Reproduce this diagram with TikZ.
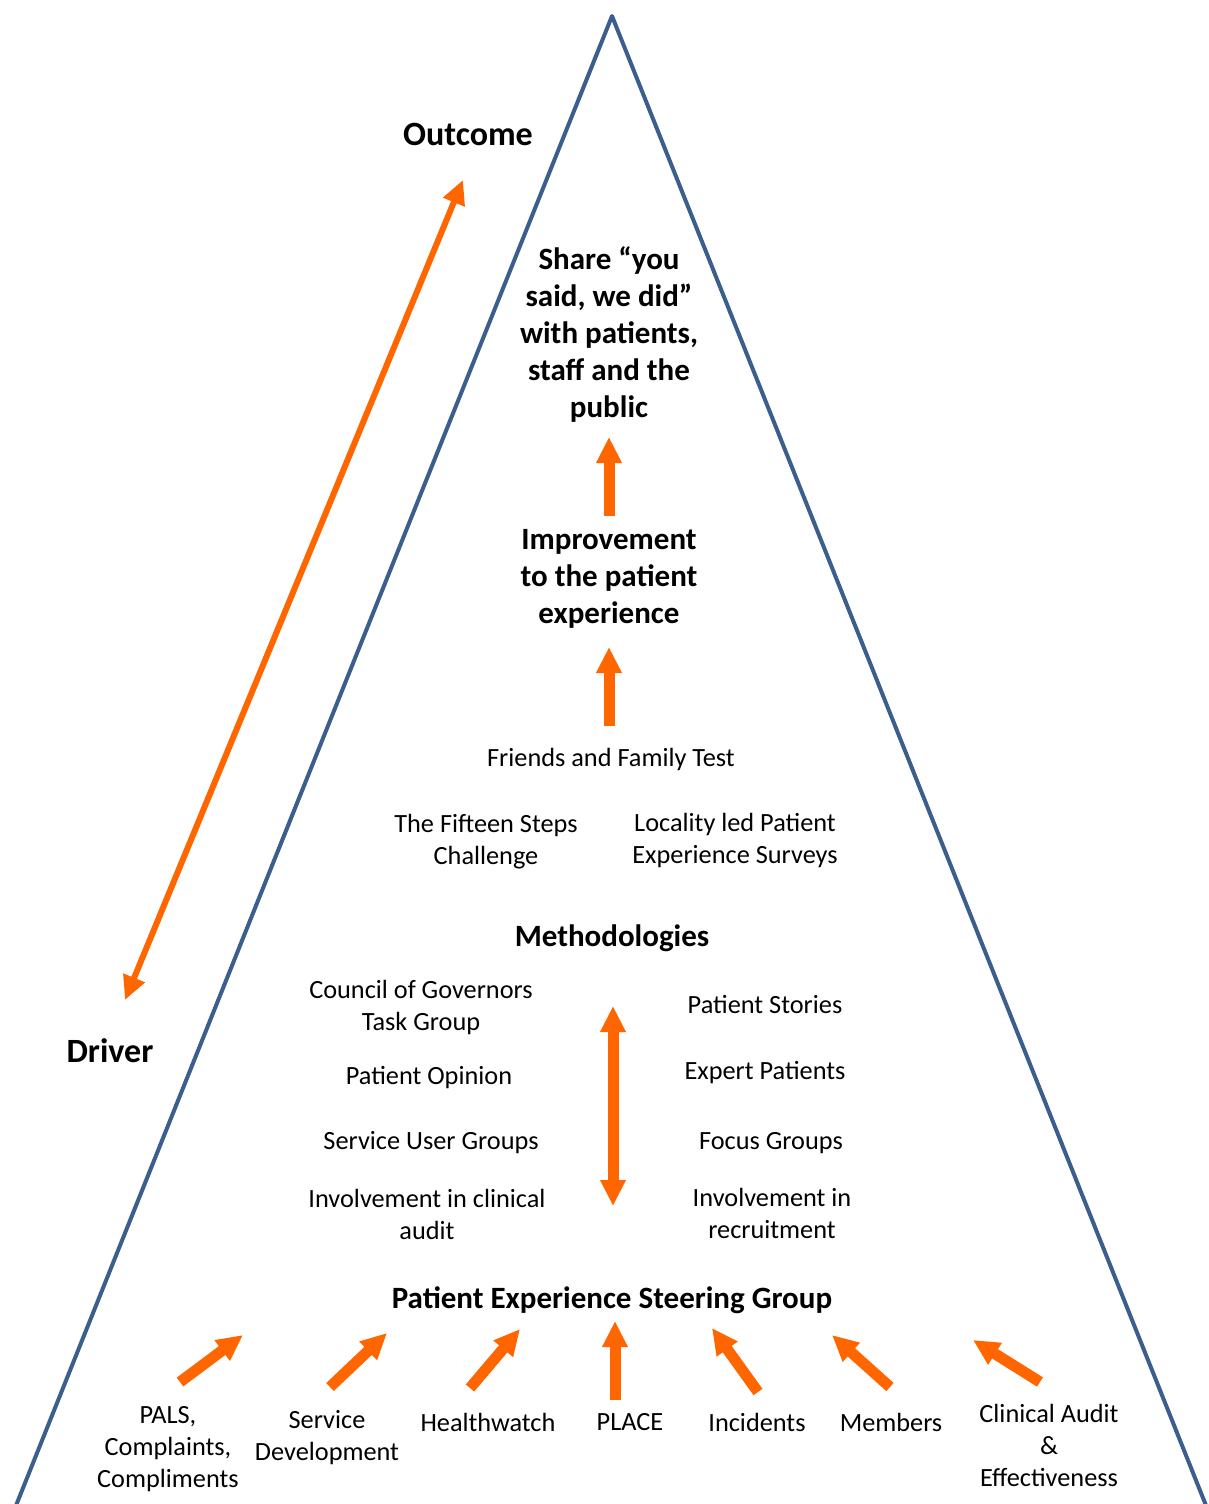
\documentclass[tikz,border=0pt]{standalone}
\usepackage{fontspec}
\setmainfont{Carlito}
\usetikzlibrary{arrows.meta}
\definecolor{triblue}{HTML}{3B5E8C}
\definecolor{arrorange}{HTML}{FF6600}
\begin{document}
\begin{tikzpicture}[x=1pt,y=-1pt,
  txt/.style={align=center,inner sep=0pt,font=\fontsize{26.3}{32}\selectfont},
  hd/.style={align=center,inner sep=0pt,font=\bfseries\fontsize{31}{37}\selectfont},
  bigl/.style={inner sep=0pt,font=\bfseries\fontsize{34}{40}\selectfont},
  fatarrow/.style={draw=arrorange,fill=arrorange,line width=11pt,-{Triangle[length=26pt,width=24pt]}},
  fatdouble/.style={draw=arrorange,fill=arrorange,line width=11pt,{Triangle[length=26pt,width=24pt]}-{Triangle[length=26pt,width=24pt]}},
  thindouble/.style={draw=arrorange,fill=arrorange,line width=6pt,{Triangle[length=24pt,width=22pt]}-{Triangle[length=24pt,width=22pt]}},
  tri/.style={draw=triblue,line width=4pt,line join=round}]
\useasboundingbox (0,0) rectangle (1208,1504);

% pyramid outline
\draw[tri] (15,1508) -- (612,16) -- (1207,1508);

% labels outside
\node[bigl] (outcome) at (468,134) {Outcome};
\node[bigl] (driver) at (110,1051) {Driver};
\coordinate (dtop) at (463,180);
\coordinate (dbot) at (125,1000);
\draw[thindouble] (dbot) -- (dtop);

% top texts
\node[hd] (share) at (609,334) {Share “you\\said, we did”\\with patients,\\staff and the\\public};
\node[hd] (improve) at (609,579) {Improvement\\to the patient\\experience};
\coordinate (a1s) at (609,516);
\coordinate (a1e) at (609,437);
\draw[fatarrow] (a1s) -- (a1e);
\coordinate (a2s) at (609,726);
\coordinate (a2e) at (609,647);
\draw[fatarrow] (a2s) -- (a2e);

\node[txt] (fft) at (611,759) {Friends and Family Test};
\node[txt] (fifteen) at (486,842) {The Fifteen Steps\\Challenge};
\node[txt] (locality) at (735,840) {Locality led Patient\\Experience Surveys};
\node[hd] (method) at (612,938) {Methodologies};

\node[txt] (council) at (421,1007) {Council of Governors\\Task Group};
\node[txt] (opinion) at (429,1078) {Patient Opinion};
\node[txt] (sug) at (431,1143) {Service User Groups};
\node[txt] (invaudit) at (427,1214) {Involvement in clinical\\audit};
\node[txt] (stories) at (765,1004) {Patient Stories};
\node[txt] (expert) at (765,1073) {Expert Patients};
\node[txt] (focus) at (771,1143) {Focus Groups};
\node[txt] (invrec) at (772,1213) {Involvement in\\recruitment};
\coordinate (mtop) at (613,1006);
\coordinate (mbot) at (613,1206);
\draw[fatdouble] (mbot) -- (mtop);

\node[hd] (pesg) at (612,1300) {Patient Experience Steering Group};

% bottom sources
\node[txt] (pals) at (168,1449) {PALS,\\Complaints,\\Compliments};
\node[txt] (servdev) at (327,1438) {Service\\Development};
\node[txt] (health) at (488,1422) {Healthwatch};
\node[txt] (place) at (630,1422) {PLACE};
\node[txt] (incid) at (757,1422) {Incidents};
\node[txt] (members) at (891,1422) {Members};
\node[txt] (clin) at (1049,1445) {Clinical Audit\\\&\\Effectiveness};

\coordinate (b1s) at (180,1382); \coordinate (b1e) at (243,1335);
\coordinate (b2s) at (330,1387); \coordinate (b2e) at (387,1333);
\coordinate (b3s) at (470,1388); \coordinate (b3e) at (520,1329);
\coordinate (b4s) at (615,1400); \coordinate (b4e) at (615,1321);
\coordinate (b5s) at (758,1392); \coordinate (b5e) at (712,1328);
\coordinate (b6s) at (890,1387); \coordinate (b6e) at (832,1335);
\coordinate (b7s) at (1040,1382); \coordinate (b7e) at (973,1340);
\foreach \i in {1,...,7} {\draw[fatarrow] (b\i s) -- (b\i e);}
\end{tikzpicture}
\end{document}
